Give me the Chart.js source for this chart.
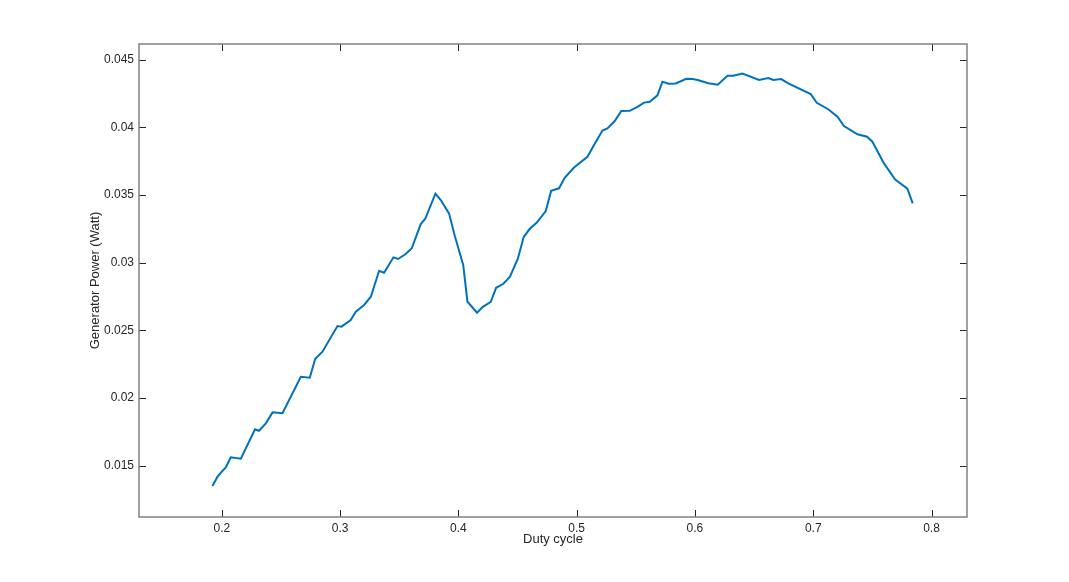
<!DOCTYPE html>
<html>
<head>
<meta charset="utf-8">
<script src="https://cdn.jsdelivr.net/npm/chart.js@4/dist/chart.umd.min.js"></script>
<style>
  html, body { margin: 0; padding: 0; background: #fff; }
  #wrap { width: 1069px; height: 582px; }
</style>
</head>
<body>
<div id="wrap"><canvas id="myChart" width="1069" height="582"></canvas></div>
<script>
// Duty cycle (x) and generator power in watts (y)
const dutyCycle = [
  0.1921, 0.1964, 0.2000, 0.2034, 0.2076, 0.2161, 0.2281, 0.2315, 0.2372, 0.2429,
  0.2513, 0.2668, 0.2744, 0.2789, 0.2851, 0.2978, 0.3012, 0.3090, 0.3133, 0.3203,
  0.3260, 0.3330, 0.3372, 0.3451, 0.3490, 0.3555, 0.3606, 0.3682, 0.3720, 0.3806,
  0.3851, 0.3921, 0.3970, 0.4041, 0.4077, 0.4158, 0.4204, 0.4274, 0.4319, 0.4380,
  0.4435, 0.4502, 0.4553, 0.4604, 0.4663, 0.4739, 0.4784, 0.4851, 0.4899, 0.4978,
  0.5091, 0.5147, 0.5218, 0.5260, 0.5322, 0.5377, 0.5449, 0.5514, 0.5570, 0.5618,
  0.5683, 0.5725, 0.5779, 0.5838, 0.5927, 0.5981, 0.6024, 0.6113, 0.6193, 0.6275,
  0.6324, 0.6402, 0.6542, 0.6620, 0.6662, 0.6729, 0.6789, 0.6979, 0.7030, 0.7127,
  0.7205, 0.7260, 0.7374, 0.7455, 0.7500, 0.7598, 0.7693, 0.7796, 0.7841
];
const genPower = [
  0.01350, 0.01419, 0.01456, 0.01488, 0.01562, 0.01552, 0.01769, 0.01758, 0.01813, 0.01894,
  0.01887, 0.02157, 0.02150, 0.02288, 0.02342, 0.02532, 0.02527, 0.02576, 0.02637, 0.02687,
  0.02748, 0.02940, 0.02925, 0.03039, 0.03027, 0.03064, 0.03106, 0.03285, 0.03324, 0.03509,
  0.03462, 0.03364, 0.03196, 0.02982, 0.02711, 0.02630, 0.02672, 0.02711, 0.02814, 0.02844,
  0.02894, 0.03027, 0.03191, 0.03250, 0.03296, 0.03381, 0.03530, 0.03549, 0.03626, 0.03702,
  0.03782, 0.03869, 0.03976, 0.03992, 0.04046, 0.04120, 0.04121, 0.04151, 0.04182, 0.04188,
  0.04236, 0.04336, 0.04321, 0.04323, 0.04358, 0.04356, 0.04349, 0.04325, 0.04314, 0.04380,
  0.04380, 0.04397, 0.04349, 0.04363, 0.04349, 0.04356, 0.04324, 0.04245, 0.04181, 0.04133,
  0.04078, 0.04009, 0.03948, 0.03930, 0.03893, 0.03733, 0.03614, 0.03546, 0.03438
];

const xTicks = [0.2, 0.3, 0.4, 0.5, 0.6, 0.7, 0.8];
const xTickLabels = ["0.2", "0.3", "0.4", "0.5", "0.6", "0.7", "0.8"];
const yTicks = [0.015, 0.02, 0.025, 0.03, 0.035, 0.04, 0.045];
const yTickLabels = ["0.015", "0.02", "0.025", "0.03", "0.035", "0.04", "0.045"];

const tickColor = "#262626";

// Box around the axes with inward ticks on all four sides
const boxPlugin = {
  id: "box",
  afterDraw(chart) {
    const { ctx, chartArea: a, scales } = chart;
    const len = 7;
    ctx.save();
    ctx.strokeStyle = "#262626";
    ctx.lineWidth = 1;
    ctx.beginPath();
    xTicks.forEach((v) => {
      const x = Math.round(scales.x.getPixelForValue(v)) + 0.5;
      ctx.moveTo(x, a.bottom); ctx.lineTo(x, a.bottom - len);
      ctx.moveTo(x, a.top); ctx.lineTo(x, a.top + len);
    });
    yTicks.forEach((v) => {
      const y = Math.round(scales.y.getPixelForValue(v)) + 0.5;
      ctx.moveTo(a.left, y); ctx.lineTo(a.left + len, y);
      ctx.moveTo(a.right, y); ctx.lineTo(a.right - len, y);
    });
    ctx.stroke();
    ctx.strokeStyle = "#808080";
    ctx.lineWidth = 1.5;
    ctx.strokeRect(a.left, a.top, a.right - a.left, a.bottom - a.top);
    ctx.restore();
  },
};

new Chart(document.getElementById("myChart"), {
  type: "line",
  data: {
    datasets: [
      {
        data: dutyCycle.map((x, i) => ({ x: x, y: genPower[i] })),
        borderColor: "#0072BD",
        borderWidth: 2,
        pointRadius: 0,
        tension: 0,
        fill: false,
      },
    ],
  },
  options: {
    responsive: false,
    animation: false,
    layout: { padding: { top: 44, right: 102, left: 0, bottom: 0 } },
    plugins: { legend: { display: false }, tooltip: { enabled: false } },
    scales: {
      x: {
        type: "linear",
        min: 0.13,
        max: 0.83,
        afterBuildTicks: (s) => { s.ticks = xTicks.map((v) => ({ value: v })); },
        afterFit: (s) => { s.height = 65; },
        grid: { display: false, drawTicks: false },
        border: { display: false },
        ticks: {
          padding: 4,
          color: tickColor,
          font: { family: "Liberation Sans, Arial, sans-serif", size: 12 },
          callback: (v, i) => xTickLabels[i],
        },
        title: {
          display: true,
          text: "Duty cycle",
          color: tickColor,
          font: { family: "Liberation Sans, Arial, sans-serif", size: 13 },
          padding: { top: 0, bottom: 35 },
        },
      },
      y: {
        type: "linear",
        min: 0.01121,
        max: 0.04615,
        afterBuildTicks: (s) => { s.ticks = yTicks.map((v) => ({ value: v })); },
        afterFit: (s) => { s.width = 139; },
        grid: { display: false, drawTicks: false },
        border: { display: false },
        ticks: {
          padding: 5,
          color: tickColor,
          font: { family: "Liberation Sans, Arial, sans-serif", size: 12 },
          callback: (v, i) => yTickLabels[i],
        },
        title: {
          display: true,
          text: "Generator Power (Watt)",
          color: tickColor,
          font: { family: "Liberation Sans, Arial, sans-serif", size: 13 },
          padding: { top: 88, bottom: 0 },
        },
      },
    },
  },
  plugins: [boxPlugin],
});
</script>
</body>
</html>
